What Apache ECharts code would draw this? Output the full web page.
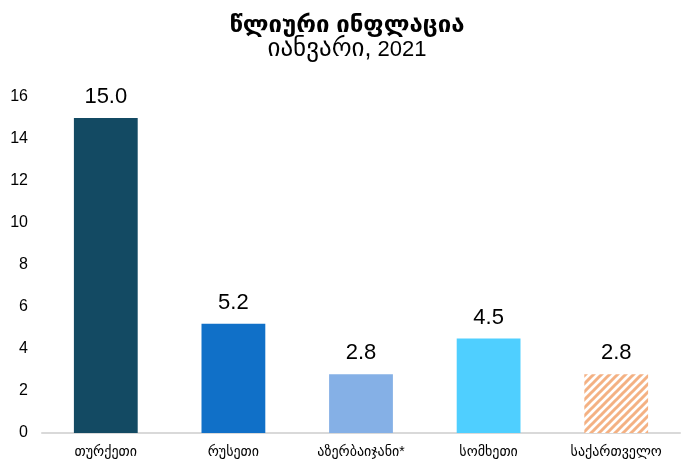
<!DOCTYPE html>
<html><head><meta charset="utf-8">
<script src="https://cdn.jsdelivr.net/npm/echarts@6/dist/echarts.min.js"></script>
<style>html,body{margin:0;padding:0;background:#fff}#c{width:694px;height:461px}</style>
</head><body><div id="c"></div>
<script>
const categories = ['თურქეთი','რუსეთი','აზერბაიჯანი*','სომხეთი','საქართველო'];
const values = [15.0, 5.2, 2.8, 4.5, 2.8];
const colors = ['#134a63','#1070c8','#85b0e6','#4fcfff', null];
const yTicks = [0,2,4,6,8,10,12,14,16];
const titleText = 'წლიური ინფლაცია';
const subGeo = 'იანვარი,';
const subYear = '2021';

const FONT = "'Liberation Sans', Arial, 'DejaVu Sans', sans-serif";
function hatch(){
  const c = document.createElement('canvas');
  c.width = 8; c.height = 8;
  const g = c.getContext('2d');
  g.fillStyle = '#fff'; g.fillRect(0,0,8,8);
  g.strokeStyle = '#f4b183'; g.lineWidth = 3;
  g.beginPath();
  g.moveTo(-2,10); g.lineTo(10,-2);
  g.moveTo(-6,6); g.lineTo(6,-6);
  g.moveTo(2,14); g.lineTo(14,2);
  g.stroke();
  return c;
}
const pat = {image: hatch(), repeat: 'repeat'};
const chart = echarts.init(document.getElementById('c'));
chart.setOption({
  animation: false,
  title: {
    text: titleText, subtext: '{g|' + subGeo + '} {d|' + subYear + '}', left: 'center', top: 8,
    textStyle: {fontFamily: FONT, fontSize: 24, fontWeight: 'bold', color: '#000'},
    subtextStyle: {fontFamily: FONT, fontSize: 22, color: '#000',
      rich: {g: {fontFamily: FONT, fontSize: 25, color: '#000'}, d: {fontFamily: FONT, fontSize: 22, color: '#000'}}},
    itemGap: 0
  },
  grid: {left: 42, right: 14, top: 97, bottom: 28},
  xAxis: {
    type: 'category', data: categories,
    axisLine: {lineStyle: {color: '#d9d9d9', width: 2}},
    axisTick: {show: false},
    axisLabel: {fontFamily: FONT, fontSize: 14, color: '#000', margin: 12}
  },
  yAxis: {
    type: 'value', min: 0, max: 16, interval: 2,
    splitLine: {show: false}, axisLine: {show: false}, axisTick: {show: false},
    axisLabel: {fontFamily: FONT, fontSize: 16, color: '#000', margin: 14,
      formatter: v => yTicks.includes(v) ? String(v) : ''}
  },
  series: [{
    type: 'bar', barWidth: '50%',
    data: values.map((v,i) => ({value: v, itemStyle: {color: colors[i] || pat}})),
    label: {show: true, position: 'top', distance: 10, fontFamily: FONT, fontSize: 22, color: '#000',
      formatter: p => p.value.toFixed(1)}
  }]
});
</script></body></html>
